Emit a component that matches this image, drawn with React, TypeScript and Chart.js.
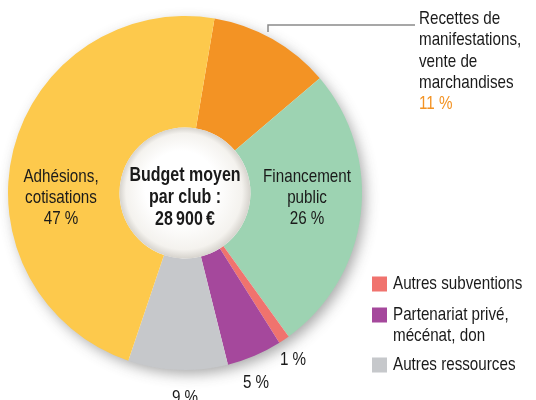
import React, { useEffect, useRef } from "react";
import { Chart, registerables } from "chart.js";

Chart.register(...registerables);

const categories = [
  "Recettes de manifestations, vente de marchandises",
  "Financement public",
  "Autres subventions",
  "Partenariat privé, mécénat, don",
  "Autres ressources",
  "Adhésions, cotisations",
];
const values = [11, 26, 1, 5, 9, 47];
const colors = ["#F39324", "#9DD3B2", "#F0736E", "#A5489C", "#C6C8CB", "#FDC94C"];
const centerLines = ["Budget moyen", "par club :", "28\u2009900\u2009€"];

const FONT = '"Liberation Sans", Arial, sans-serif';
const SX = 0.8;

function txt(ctx: CanvasRenderingContext2D, t: string, x: number, y: number, align: CanvasTextAlign) {
  ctx.save();
  ctx.translate(x, y);
  ctx.scale(SX, 1);
  ctx.textAlign = align;
  ctx.textBaseline = "middle";
  ctx.fillText(t, 0, 0);
  ctx.restore();
}

const decorPlugin = {
  id: "decor",
  beforeDatasetsDraw(chart: any) {
    const meta = chart.getDatasetMeta(0);
    const arc = meta.data[0];
    if (!arc) return;
    const { x, y, outerRadius } = arc.getProps(["x", "y", "outerRadius"], true);
    const ctx = chart.ctx;
    ctx.save();
    ctx.shadowColor = "rgba(60,60,60,0.45)";
    ctx.shadowBlur = 14;
    ctx.shadowOffsetX = 4;
    ctx.shadowOffsetY = 5;
    ctx.beginPath();
    ctx.arc(x, y, outerRadius - 1, 0, Math.PI * 2);
    ctx.fillStyle = "#ffffff";
    ctx.fill();
    ctx.restore();
  },
  afterDatasetsDraw(chart: any) {
    const meta = chart.getDatasetMeta(0);
    const arc = meta.data[0];
    if (!arc) return;
    const { x, y, innerRadius } = arc.getProps(["x", "y", "innerRadius"], true);
    const ctx = chart.ctx;
    ctx.save();
    const g = ctx.createRadialGradient(x - 4, y - 6, innerRadius * 0.55, x, y, innerRadius);
    g.addColorStop(0, "#ffffff");
    g.addColorStop(0.75, "#f4f2ee");
    g.addColorStop(1, "#d6d3cd");
    ctx.beginPath();
    ctx.arc(x, y, innerRadius, 0, Math.PI * 2);
    ctx.fillStyle = g;
    ctx.fill();

    ctx.fillStyle = "#1a1a1a";

    ctx.font = `bold 20px ${FONT}`;
    centerLines.forEach((t, i) => txt(ctx, t, x, y - 18 + i * 22, "center"));

    ctx.font = `19px ${FONT}`;
    const adh = ["Adhésions,", "cotisations", `${values[5]} %`];
    adh.forEach((t, i) => txt(ctx, t, x - 124, y - 16 + i * 21, "center"));
    const fin = ["Financement", "public", `${values[1]} %`];
    fin.forEach((t, i) => txt(ctx, t, x + 122, y - 16 + i * 21, "center"));

    txt(ctx, `${values[2]} %`, x + 108, y + 167, "center");
    txt(ctx, `${values[3]} %`, x + 71, y + 190, "center");
    txt(ctx, `${values[4]} %`, x, y + 205, "center");

    ctx.strokeStyle = "#8a8a8a";
    ctx.lineWidth = 1.5;
    ctx.beginPath();
    ctx.moveTo(x + 83, y - 161);
    ctx.lineTo(x + 83, y - 168);
    ctx.lineTo(x + 230, y - 168);
    ctx.stroke();

    const rec = ["Recettes de", "manifestations,", "vente de", "marchandises"];
    rec.forEach((t, i) => txt(ctx, t, 419, 19 + i * 21.2, "left"));
    ctx.fillStyle = colors[0];
    txt(ctx, `${values[0]} %`, 419, 104, "left");

    const leg = [
      { i: 2, lines: ["Autres subventions"], y: 284 },
      { i: 3, lines: ["Partenariat privé,", "mécénat, don"], y: 315 },
      { i: 4, lines: ["Autres ressources"], y: 365 },
    ];
    leg.forEach((l) => {
      ctx.fillStyle = colors[l.i];
      ctx.fillRect(372, l.y - 7.5, 15, 15);
      ctx.fillStyle = "#1a1a1a";
      l.lines.forEach((t, k) => txt(ctx, t, 393, l.y + k * 21, "left"));
    });
    ctx.restore();
  },
};

export default function App() {
  const ref = useRef<HTMLCanvasElement>(null);
  useEffect(() => {
    document.body.style.margin = "0";
    const chart = new Chart(ref.current!, {
      type: "doughnut",
      data: {
        labels: categories,
        datasets: [
          {
            data: values,
            backgroundColor: colors,
            borderWidth: 0,
          },
        ],
      },
      options: {
        animation: false,
        responsive: false,
        rotation: 9.6,
        cutout: "37%",
        layout: { padding: { left: 8, right: 174, top: 16, bottom: 30 } },
        plugins: {
          legend: { display: false },
          tooltip: { enabled: false },
        },
      },
      plugins: [decorPlugin],
    });
    return () => chart.destroy();
  }, []);
  return (
    <div style={{ width: 536, height: 400, background: "#fff" }}>
      <canvas ref={ref} width={536} height={400} style={{ display: "block" }} />
    </div>
  );
}
